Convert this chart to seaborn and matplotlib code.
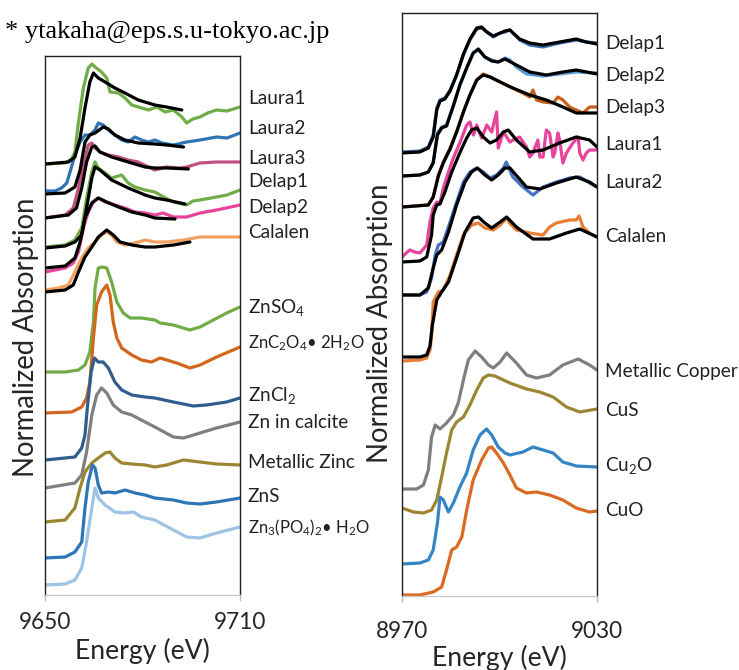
import numpy as np
import pandas as pd
import seaborn as sns
import matplotlib
matplotlib.use("Agg")
import matplotlib.pyplot as plt
import matplotlib.transforms as mtransforms

# ---------------- Zn K-edge (left panel), stacked arbitrary units ----------------
zn_laura1_e = [9650, 9656.2, 9658.2, 9659.2, 9660.3, 9661.8, 9663.3, 9664.4, 9665.4, 9667.4, 9669.0, 9670.0, 9672.6, 9674.6, 9676.7, 9679.7, 9681.8, 9684.4, 9687.0, 9689.5, 9692.1, 9693.6, 9695.5, 9697.7, 9700.0, 9702.8, 9706.0, 9710]
zn_laura1_y = [431, 432, 436, 443, 473, 507, 527, 531, 528, 523, 517, 503, 502, 497, 490, 487, 485, 488, 483, 485, 478, 472, 476, 478, 482, 485, 484, 488]
zn_laura1_fit_e = [9650, 9657.2, 9659.2, 9660.8, 9662.3, 9663.8, 9664.9, 9666.4, 9669.0, 9671.5, 9674.6, 9678.7, 9683.8, 9687.4, 9692.1]
zn_laura1_fit_y = [431, 433, 438, 457, 487, 513, 522, 517, 512, 507, 502, 495, 490, 488, 485]

zn_laura2_e = [9650, 9653.1, 9655.1, 9656.7, 9657.7, 9659.2, 9660.8, 9662.3, 9663.8, 9665.4, 9666.4, 9667.9, 9669.5, 9671.5, 9673.6, 9675.6, 9677.7, 9679.7, 9681.8, 9683.8, 9686.0, 9689.5, 9693.6, 9697.7, 9702.8, 9706.0, 9710]
zn_laura2_y = [404, 404, 407, 412, 423, 440, 453, 460, 460, 465, 472, 470, 465, 460, 455, 453, 458, 455, 453, 455, 452, 450, 453, 455, 458, 457, 462]
zn_laura2_fit_e = [9650, 9656.2, 9659.2, 9660.8, 9662.3, 9663.8, 9665.4, 9667.9, 9669.5, 9671.5, 9674.6, 9678.7, 9683.8, 9687.4, 9692.6]
zn_laura2_fit_y = [401, 402, 408, 425, 453, 460, 462, 468, 466, 460, 455, 452, 451, 450, 448]

zn_laura3_e = [9650, 9656.2, 9658.7, 9660.3, 9661.8, 9663.3, 9664.4, 9665.4, 9666.9, 9669.5, 9672.6, 9675.6, 9678.7, 9681.8, 9683.8, 9687.4, 9691.5, 9693.6, 9697.7, 9702.8, 9710]
zn_laura3_y = [377, 380, 387, 407, 430, 450, 452, 447, 443, 440, 438, 435, 433, 428, 425, 428, 427, 428, 432, 433, 433]
zn_laura3_fit_e = [9650, 9657.2, 9659.7, 9661.3, 9662.8, 9664.4, 9665.4, 9666.9, 9670.5, 9675.6, 9680.8, 9683.8, 9687.4, 9694.1]
zn_laura3_fit_y = [377, 380, 387, 407, 433, 448, 449, 443, 438, 433, 428, 427, 427, 426]

zn_delap1_e = [9650, 9656.2, 9659.2, 9661.3, 9662.8, 9664.4, 9665.4, 9666.4, 9668.5, 9670.5, 9673.6, 9675.6, 9677.7, 9680.8, 9683.8, 9686.5, 9689.5, 9693.6, 9695.5, 9697.7, 9702.8, 9706.0, 9710]
zn_delap1_y = [348, 350, 355, 367, 397, 423, 433, 427, 422, 417, 420, 412, 408, 405, 403, 398, 393, 390, 394, 395, 398, 400, 405]
zn_delap1_fit_e = [9650, 9656.2, 9659.2, 9661.3, 9662.8, 9664.4, 9665.4, 9666.9, 9670.5, 9675.6, 9680.8, 9683.8, 9687.4, 9693.1]
zn_delap1_fit_y = [347, 349, 353, 360, 387, 417, 428, 425, 415, 407, 400, 397, 395, 391]

zn_delap2_e = [9650, 9656.2, 9658.7, 9660.3, 9661.8, 9663.3, 9664.9, 9666.4, 9668.5, 9671.5, 9674.6, 9677.7, 9680.8, 9683.8, 9686.4, 9689.5, 9693.6, 9697.7, 9702.8, 9710]
zn_delap2_y = [323, 327, 332, 343, 367, 383, 393, 397, 393, 390, 387, 383, 382, 380, 382, 378, 378, 382, 385, 390]
zn_delap2_fit_e = [9650, 9656.2, 9659.2, 9660.8, 9662.3, 9664.4, 9666.4, 9669.0, 9672.6, 9676.7, 9680.8, 9683.8, 9690.0]
zn_delap2_fit_y = [327, 329, 337, 353, 377, 392, 397, 393, 388, 383, 380, 377, 376]

zn_calalen_e = [9650, 9654.1, 9657.2, 9659.2, 9661.3, 9663.3, 9665.4, 9667.4, 9669.0, 9670.5, 9672.1, 9674.6, 9677.7, 9680.8, 9683.8, 9687.4, 9692.6, 9697.7, 9702.8, 9710]
zn_calalen_y = [305, 307, 310, 323, 337, 347, 353, 360, 363, 360, 353, 350, 352, 355, 353, 353, 355, 358, 358, 358]
zn_calalen_fit_e = [9650, 9656.2, 9658.7, 9660.3, 9662.3, 9664.4, 9666.4, 9669.0, 9671.0, 9673.1, 9676.7, 9680.8, 9683.8, 9689.5, 9694.6]
zn_calalen_fit_y = [303, 305, 310, 323, 338, 348, 358, 365, 360, 353, 350, 348, 348, 350, 353]

znso4_e = [9650, 9656.2, 9660.3, 9662.3, 9663.8, 9664.9, 9665.4, 9666.4, 9667.4, 9669.0, 9670.5, 9672.1, 9674.1, 9676.2, 9679.7, 9683.8, 9685.4, 9689.5, 9694.6, 9697.7, 9701.8, 9705.9, 9710]
znso4_y = [223, 223, 225, 230, 243, 273, 307, 327, 328, 327, 313, 293, 282, 277, 277, 275, 272, 270, 265, 268, 275, 282, 288]

znox_e = [9650, 9658.2, 9661.3, 9662.8, 9663.8, 9664.9, 9665.9, 9667.4, 9669.0, 9670.0, 9671.0, 9672.1, 9673.6, 9676.7, 9679.7, 9682.8, 9685.4, 9690.5, 9694.6, 9697.7, 9702.8, 9710]
znox_y = [182, 183, 188, 197, 213, 257, 290, 303, 310, 300, 273, 257, 247, 240, 235, 233, 237, 232, 227, 230, 238, 248]

zncl2_e = [9650, 9659.2, 9661.3, 9662.3, 9663.1, 9664.2, 9665.2, 9666.4, 9667.9, 9669.5, 9671.5, 9673.6, 9676.7, 9680.8, 9683.8, 9689.5, 9695.6, 9699.7, 9705.9, 9710]
zncl2_y = [135, 138, 147, 160, 190, 223, 237, 233, 233, 227, 213, 205, 200, 198, 197, 193, 189, 190, 193, 197]

zn_calcite_e = [9650, 9659.2, 9661.3, 9662.8, 9664.4, 9665.9, 9667.4, 9669.0, 9671.0, 9673.6, 9676.7, 9680.8, 9683.8, 9689.5, 9692.6, 9697.7, 9702.8, 9710]
zn_calcite_y = [107, 112, 120, 143, 180, 200, 207, 202, 190, 183, 180, 173, 168, 158, 157, 162, 167, 173]

zn_metal_e = [9650, 9656.2, 9659.2, 9660.8, 9662.3, 9664.4, 9666.4, 9668.5, 9670.0, 9671.5, 9673.6, 9676.7, 9680.8, 9683.8, 9687.4, 9692.6, 9697.7, 9702.8, 9710]
zn_metal_y = [73, 75, 87, 107, 123, 132, 137, 142, 143, 137, 132, 131, 130, 128, 130, 135, 133, 131, 130]

zns_e = [9650, 9656.2, 9659.2, 9661.3, 9662.3, 9663.3, 9664.6, 9665.4, 9666.4, 9667.4, 9669.5, 9671.5, 9674.6, 9677.7, 9680.8, 9683.8, 9689.5, 9693.6, 9697.7, 9702.8, 9710]
zns_y = [37, 38, 43, 53, 87, 113, 130, 127, 110, 102, 103, 102, 105, 102, 100, 97, 95, 92, 91, 93, 97]

znpo4_e = [9650, 9656.2, 9659.2, 9661.3, 9662.8, 9664.4, 9665.4, 9666.4, 9668.5, 9671.5, 9674.6, 9677.2, 9679.7, 9683.8, 9689.5, 9693.6, 9697.7, 9702.8, 9710]
znpo4_y = [10, 11, 15, 27, 53, 87, 107, 97, 90, 83, 82, 83, 78, 75, 65, 58, 57, 62, 68]

zn_labels = ["Laura1", "Laura2", "Laura3", "Delap1", "Delap2", "Calalen", "ZnSO$_4$",
             "ZnC$_2$O$_4$\u2022 2H$_2$O", "ZnCl$_2$", "Zn in calcite", "Metallic Zinc", "ZnS",
             "Zn$_3$(PO$_4$)$_2$\u2022 H$_2$O"]
zn_label_y = [497, 467, 437, 414, 388, 363, 288, 252, 199, 172, 132, 98, 67]

# ---------------- Cu K-edge (right panel) ----------------
cu_delap1_e = [8970, 8975.5, 8978.1, 8979.6, 8980.7, 8981.7, 8983.2, 8984.8, 8986.8, 8988.9, 8990.9, 8993.0, 8994.5, 8996.1, 8998.1, 9000.2, 9001.7, 9003.2, 9006.2, 9009.3, 9013.4, 9018.5, 9023.6, 9026.7, 9030]
cu_delap1_y = [444, 445, 449, 461, 488, 496, 498, 506, 521, 541, 556, 567, 568, 564, 559, 563, 564, 566, 556, 551, 549, 553, 556, 554, 553]
cu_delap1_fit_y = [443, 444, 448, 459, 486, 495, 497, 505, 521, 542, 557, 568, 569, 564, 560, 563, 565, 566, 557, 553, 551, 554, 557, 554, 552]

cu_delap2_e = [8970, 8975.5, 8978.1, 8979.6, 8980.9, 8982.2, 8983.7, 8985.8, 8987.8, 8989.9, 8991.9, 8993.5, 8995.5, 8997.6, 8999.6, 9001.7, 9003.2, 9005.2, 9008.3, 9013.4, 9018.5, 9023.6, 9030]
cu_delap2_y = [420, 421, 424, 434, 463, 469, 471, 491, 511, 528, 543, 546, 539, 536, 534, 538, 536, 529, 522, 520, 522, 524, 523]
cu_delap2_fit_e = [8970, 8975.5, 8978.1, 8979.6, 8980.9, 8982.2, 8983.7, 8985.8, 8987.8, 8989.9, 8991.9, 8993.5, 8995.5, 8997.6, 8999.6, 9001.7, 9005.2, 9009.3, 9014.4, 9019.5, 9023.6, 9030]
cu_delap2_fit_y = [420, 421, 424, 433, 461, 468, 470, 490, 511, 528, 543, 547, 539, 535, 534, 537, 531, 524, 521, 524, 526, 522]

cu_delap3_e = [8970, 8978.1, 8979.6, 8981.2, 8982.7, 8984.8, 8986.8, 8988.9, 8990.9, 8993.0, 8995.0, 8997.1, 9000.2, 9003.2, 9007.2, 9009.3, 9010.3, 9011.4, 9013.4, 9016.5, 9018.0, 9019.5, 9021.6, 9023.6, 9025.7, 9027.7, 9030]
cu_delap3_y = [389, 391, 399, 421, 434, 448, 464, 484, 501, 516, 522, 519, 514, 509, 503, 499, 506, 496, 494, 493, 499, 496, 489, 486, 483, 489, 489]
cu_delap3_fit_e = [8970, 8978.1, 8979.6, 8981.2, 8982.7, 8984.8, 8986.8, 8988.9, 8990.9, 8993.0, 8995.0, 8997.1, 9000.2, 9004.1, 9009.3, 9014.4, 9019.5, 9023.6, 9030]
cu_delap3_fit_y = [389, 391, 399, 420, 433, 447, 464, 484, 501, 516, 521, 519, 514, 508, 501, 496, 489, 483, 483]

cu_laura1_e = [8970, 8971.3, 8972.4, 8973.9, 8975.5, 8977.6, 8978.6, 8979.6, 8980.7, 8981.7, 8982.7, 8984.3, 8985.8, 8987.9, 8989.9, 8990.9, 8992.0, 8993.0, 8994.5, 8996.1, 8997.6, 8999.1, 8999.6, 9001.2, 9003.2, 9004.2, 9006.2, 9008.3, 9009.3, 9010.3, 9011.8, 9012.4, 9013.4, 9014.4, 9015.4, 9016.5, 9017.0, 9018.0, 9018.5, 9019.5, 9020.6, 9022.6, 9024.2, 9024.7, 9025.7, 9026.7, 9027.7, 9030]
cu_laura1_y = [339, 343, 346, 344, 343, 351, 374, 388, 394, 393, 408, 424, 438, 454, 471, 474, 461, 471, 458, 471, 464, 484, 448, 464, 454, 456, 459, 449, 439, 443, 456, 439, 439, 466, 463, 439, 443, 463, 456, 433, 443, 453, 459, 443, 436, 443, 446, 446]
cu_laura1_fit_e = [8970, 8975.5, 8977.6, 8979.1, 8979.6, 8980.7, 8981.7, 8983.2, 8985.3, 8987.9, 8989.9, 8991.4, 8993.0, 8995.0, 8997.1, 8999.1, 9001.2, 9002.7, 9005.2, 9009.3, 9013.4, 9018.5, 9023.6, 9027.7, 9030]
cu_laura1_fit_y = [334, 335, 339, 361, 381, 391, 392, 404, 424, 444, 458, 466, 468, 459, 453, 456, 464, 466, 456, 444, 446, 453, 459, 456, 449]

cu_laura2_e = [8970, 8975.5, 8977.6, 8979.1, 8980.2, 8981.2, 8982.7, 8984.8, 8986.8, 8988.9, 8990.9, 8993.0, 8995.0, 8997.1, 8999.1, 9001.2, 9002.1, 9004.1, 9007.2, 9010.3, 9013.4, 9017.5, 9021.6, 9024.7, 9027.7, 9030]
cu_laura2_y = [301, 301, 304, 318, 341, 351, 354, 374, 394, 414, 424, 428, 424, 418, 421, 428, 434, 419, 409, 401, 409, 414, 418, 419, 413, 409]
cu_laura2_fit_e = [8970, 8975.5, 8978.1, 8979.6, 8980.7, 8982.2, 8984.3, 8986.8, 8989.4, 8991.4, 8993.2, 8995.5, 8997.6, 8999.6, 9001.7, 9003.2, 9008.3, 9012.4, 9017.5, 9023.6, 9027.7, 9030]
cu_laura2_fit_y = [301, 301, 308, 328, 341, 346, 364, 391, 414, 424, 428, 421, 416, 421, 428, 428, 409, 407, 413, 419, 414, 409]

cu_calalen_e = [8970, 8975.5, 8977.6, 8978.6, 8979.1, 8979.6, 8981.2, 8982.7, 8984.8, 8986.8, 8988.9, 8991.4, 8993.5, 8995.5, 8998.1, 9000.2, 9002.2, 9003.1, 9005.2, 9009.3, 9013.4, 9015.4, 9017.5, 9021.6, 9023.6, 9024.5, 9025.7, 9027.7, 9030]
cu_calalen_y = [235, 236, 238, 246, 259, 294, 304, 306, 321, 341, 361, 371, 373, 368, 366, 371, 378, 373, 366, 363, 361, 369, 373, 376, 376, 380, 369, 363, 359]
cu_calalen_fit_e = [8970, 8975.5, 8977.6, 8978.6, 8979.3, 8980.7, 8982.2, 8984.3, 8986.8, 8989.4, 8991.9, 8993.5, 8995.5, 8997.6, 9000.2, 9002.2, 9005.2, 9010.3, 9015.4, 9020.6, 9024.7, 9030]
cu_calalen_fit_y = [239, 239, 241, 250, 270, 296, 304, 314, 338, 364, 378, 379, 373, 368, 374, 379, 369, 357, 357, 363, 367, 359]

cu_metal_e = [8970, 8974.5, 8976.6, 8978.1, 8979.1, 8980.2, 8981.7, 8983.7, 8985.8, 8987.3, 8988.9, 8990.4, 8992.5, 8994.5, 8996.6, 8998.1, 9000.2, 9002.2, 9005.2, 9008.3, 9011.4, 9015.4, 9019.5, 9024.2, 9027.7, 9030]
cu_metal_y = [107, 107, 111, 126, 159, 171, 167, 173, 181, 193, 216, 236, 245, 239, 231, 228, 234, 243, 233, 221, 218, 221, 231, 237, 231, 226]

cus_e = [8970, 8973.5, 8976.6, 8979.1, 8980.7, 8982.2, 8983.7, 8985.3, 8986.8, 8988.9, 8990.9, 8993.0, 8995.0, 8996.6, 8998.6, 9001.2, 9003.2, 9008.3, 9012.4, 9016.5, 9020.6, 9024.7, 9030]
cus_y = [88, 84, 83, 86, 96, 119, 143, 166, 174, 179, 191, 206, 218, 221, 220, 216, 213, 207, 204, 199, 189, 184, 187]

cu2o_e = [8970, 8975.5, 8978.1, 8979.6, 8980.9, 8981.7, 8982.7, 8984.3, 8985.8, 8987.8, 8989.9, 8991.9, 8994.0, 8996.0, 8997.6, 8999.6, 9001.7, 9003.2, 9007.2, 9010.3, 9013.4, 9016.5, 9019.5, 9023.6, 9030]
cu2o_y = [32, 33, 36, 46, 73, 99, 96, 84, 93, 109, 123, 146, 161, 167, 161, 149, 143, 141, 144, 149, 146, 143, 134, 130, 129]

cuo_e = [8970, 8975.5, 8979.6, 8982.2, 8983.7, 8985.3, 8986.8, 8988.4, 8989.9, 8991.9, 8994.5, 8996.6, 8997.6, 8999.1, 9001.2, 9003.2, 9005.2, 9008.3, 9011.4, 9015.4, 9019.5, 9023.6, 9027.7, 9030]
cuo_y = [1, 1, 4, 9, 26, 46, 49, 59, 86, 116, 136, 148, 149, 143, 133, 121, 108, 103, 104, 101, 96, 88, 84, 85]

cu_labels = ["Delap1", "Delap2", "Delap3", "Laura1", "Laura2", "Calalen",
             "Metallic Copper", "CuS", "Cu$_2$O", "CuO"]
cu_label_y = [553, 520, 488, 451, 413, 359, 225, 185, 130, 86]

# ---------------- style ----------------
sns.set_theme(style="white")
plt.rcParams["font.family"] = ["Lato", "DejaVu Sans"]
plt.rcParams["mathtext.fontset"] = "custom"
plt.rcParams["mathtext.rm"] = "Lato"
plt.rcParams["mathtext.it"] = "Lato"

LW = 2.3
green = "#70AD47"
blue = "#2E75B6"
rose = "#C2507F"
pink = "#E8449B"
lorange = "#F3A05E"
dorange = "#D2661C"
navy = "#2F5E8E"
gray = "#7F7F7F"
olive = "#9C8632"
lblue = "#9DC3E6"

fig = plt.figure(figsize=(7.39, 6.70), dpi=100)
ax_zn = fig.add_axes([45 / 739, 75 / 670, 195 / 739, 539 / 670])
ax_cu = fig.add_axes([402 / 739, 74 / 670, 195 / 739, 583 / 670])


def draw(ax, e, y, color):
    sns.lineplot(x=e, y=y, ax=ax, color=color, lw=LW, sort=False, estimator=None)


# left panel: samples with their fits, then the references
zn_series = [
    (zn_laura1_e, zn_laura1_y, green, zn_laura1_fit_e, zn_laura1_fit_y),
    (zn_laura2_e, zn_laura2_y, blue, zn_laura2_fit_e, zn_laura2_fit_y),
    (zn_laura3_e, zn_laura3_y, rose, zn_laura3_fit_e, zn_laura3_fit_y),
    (zn_delap1_e, zn_delap1_y, green, zn_delap1_fit_e, zn_delap1_fit_y),
    (zn_delap2_e, zn_delap2_y, pink, zn_delap2_fit_e, zn_delap2_fit_y),
    (zn_calalen_e, zn_calalen_y, lorange, zn_calalen_fit_e, zn_calalen_fit_y),
]
for e, y, c, fe, fy in zn_series:
    draw(ax_zn, e, y, c)
for e, y, c, fe, fy in zn_series:
    draw(ax_zn, fe, fy, "black")
for e, y, c in [(znso4_e, znso4_y, green), (znox_e, znox_y, dorange), (zncl2_e, zncl2_y, navy),
                (zn_calcite_e, zn_calcite_y, gray), (zn_metal_e, zn_metal_y, olive),
                (zns_e, zns_y, blue), (znpo4_e, znpo4_y, lblue)]:
    draw(ax_zn, e, y, c)

# right panel
cu_series = [
    (cu_delap1_e, cu_delap1_y, "#3D6FAE", cu_delap1_e, cu_delap1_fit_y),
    (cu_delap2_e, cu_delap2_y, "#5B9BD5", cu_delap2_fit_e, cu_delap2_fit_y),
    (cu_delap3_e, cu_delap3_y, "#C8611E", cu_delap3_fit_e, cu_delap3_fit_y),
    (cu_laura1_e, cu_laura1_y, pink, cu_laura1_fit_e, cu_laura1_fit_y),
    (cu_laura2_e, cu_laura2_y, "#4472C4", cu_laura2_fit_e, cu_laura2_fit_y),
    (cu_calalen_e, cu_calalen_y, "#EA7D34", cu_calalen_fit_e, cu_calalen_fit_y),
]
for e, y, c, fe, fy in cu_series:
    draw(ax_cu, e, y, c)
for e, y, c, fe, fy in cu_series:
    draw(ax_cu, fe, fy, "black")
for e, y, c in [(cu_metal_e, cu_metal_y, gray), (cus_e, cus_y, olive),
                (cu2o_e, cu2o_y, "#3585C6"), (cuo_e, cuo_y, "#DA6A22")]:
    draw(ax_cu, e, y, c)

# axes cosmetics
for ax, lims, ylim, labels, ly, tpad, xpad, ylab_x, ylab_y in [
    (ax_zn, (9650, 9710), (0, 539), zn_labels, zn_label_y, 8, 4, -0.033, 0.479),
    (ax_cu, (8970, 9030), (0, 583), cu_labels, cu_label_y, 14, 2, -0.045, 0.468),
]:
    ax.set_xlim(*lims)
    ax.set_ylim(*ylim)
    ax.set_xticks(list(lims))
    ax.set_xticklabels([str(v) for v in lims])
    ax.set_yticks([])
    ax.tick_params(axis="x", direction="out", length=4, width=1, color="#BFBFBF",
                   labelsize=16.3, pad=tpad, bottom=True)
    for s in ["left", "right", "top"]:
        ax.spines[s].set_color("#222222")
        ax.spines[s].set_linewidth(1.0)
    ax.spines["bottom"].set_color("#C8C8C8")
    ax.spines["bottom"].set_linewidth(1.0)
    ax.set_xlabel("Energy (eV)", fontsize=19.2, labelpad=xpad)
    ax.set_ylabel("Normalized Absorption", fontsize=19.8)
    ax.yaxis.set_label_coords(ylab_x, ylab_y)
    trans = mtransforms.blended_transform_factory(ax.transAxes, ax.transData)
    for lab, yy in zip(labels, ly):
        # the hydrate formulas are long, keep them clear of the right panel
        size = 12.0 if "\u2022" in lab else 13.7
        ax.text(1.04, yy, lab, transform=trans, fontsize=size, va="center", ha="left",
                color="#222222")

fig.text(5 / 739, 1 - 32 / 670, "* ytakaha@eps.s.u-tokyo.ac.jp", family="Liberation Serif",
         fontsize=19, va="center", ha="left", color="black")

fig.savefig("out.png", dpi=100)
